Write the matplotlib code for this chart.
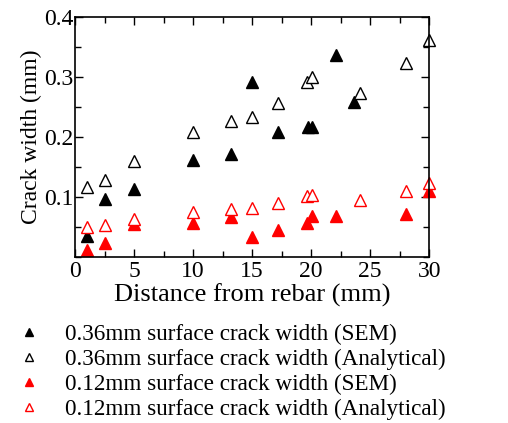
import numpy as np
from matplotlib import pyplot as plt
from matplotlib.ticker import MultipleLocator

plt.rcParams['font.family'] = ['Liberation Serif', 'DejaVu Serif']

# distances (mm) and crack widths (mm)
x_sem36 = [1, 2.5, 5, 10, 13.2, 15, 17.2, 19.7, 20.1, 22.1, 23.6]
y_sem36 = [0.035, 0.097, 0.114, 0.162, 0.172, 0.291, 0.208, 0.217, 0.217, 0.337, 0.258]

x_ana36 = [1, 2.5, 5, 10, 13.2, 15, 17.2, 19.6, 20.1, 24.1, 28.05, 30]
y_ana36 = [0.117, 0.128, 0.160, 0.209, 0.227, 0.233, 0.257, 0.292, 0.300, 0.273, 0.324, 0.362]

x_sem12 = [1, 2.5, 5, 10, 13.2, 15, 17.2, 19.6, 20.1, 22.1, 28.05, 30]
y_sem12 = [0.012, 0.023, 0.055, 0.057, 0.067, 0.033, 0.046, 0.057, 0.068, 0.068, 0.072, 0.111]

x_ana12 = [1, 2.5, 5, 10, 13.2, 15, 17.2, 19.6, 20.1, 24.1, 28.05, 30]
y_ana12 = [0.050, 0.053, 0.063, 0.076, 0.081, 0.082, 0.090, 0.102, 0.104, 0.096, 0.111, 0.123]

labels = ['0.36mm surface crack width (SEM)',
          '0.36mm surface crack width (Analytical)',
          '0.12mm surface crack width (SEM)',
          '0.12mm surface crack width (Analytical)']

fig = plt.figure(figsize=(5.08, 4.23), dpi=100)
ax = fig.add_axes([0.148, 0.392, 0.697, 0.568])  # [left, bottom, width, height]

ms = 8.5
h1, = ax.plot(x_sem36, y_sem36, '^', color='black', ms=ms, ls='none', label=labels[0])
h2, = ax.plot(x_ana36, y_ana36, '^', mfc='white', mec='black', mew=1, ms=ms, ls='none', label=labels[1])
h3, = ax.plot(x_sem12, y_sem12, '^', color='red', ms=ms, ls='none', label=labels[2])
h4, = ax.plot(x_ana12, y_ana12, '^', mfc='white', mec='red', mew=1, ms=ms, ls='none', label=labels[3])
for h in (h1, h2, h3, h4):
    h.set_clip_on(False)

ax.set_xlim(0, 30)
ax.set_ylim(0, 0.4)
ax.set_xticks([0, 5, 10, 15, 20, 25, 30])
ax.set_yticks([0.1, 0.2, 0.3, 0.4])
ax.set_yticklabels(['0.1', '0.2', '0.3', '0.4'])
ax.xaxis.set_minor_locator(MultipleLocator(2.5))
ax.yaxis.set_minor_locator(MultipleLocator(0.05))
ax.tick_params(which='both', direction='in', top=True, right=True, labelsize=17, width=1)
ax.tick_params(which='major', length=6)
ax.tick_params(which='minor', length=4)
ax.tick_params(axis='y', pad=1)
ax.tick_params(axis='x', pad=3)
for s in ax.spines.values():
    s.set_linewidth(1.2)

ax.set_xlabel('Distance from rebar (mm)', fontsize=19, labelpad=1)
ax.set_ylabel('Crack width (mm)', fontsize=17, labelpad=2)

fig.legend(handles=[h1, h2, h3, h4], loc='upper left', bbox_to_anchor=(0.012, 0.262),
           frameon=False, fontsize=16.7, markerscale=0.65, handlelength=1.0,
           handletextpad=1.05, labelspacing=0.16, borderpad=0)

plt.savefig('out.png', dpi=100)
